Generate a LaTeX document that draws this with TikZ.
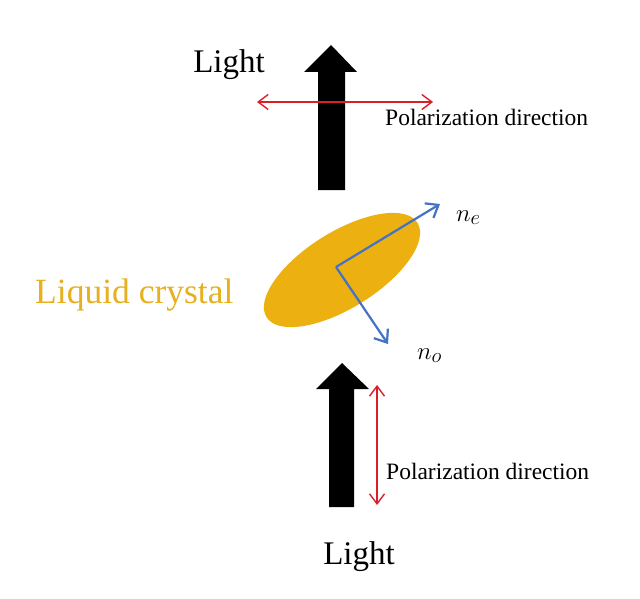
\documentclass[tikz,border=0pt]{standalone}
\usepackage{fontspec}
\setmainfont{Liberation Serif}
\usetikzlibrary{arrows.meta,shapes.geometric}
\definecolor{lcgold}{RGB}{236,177,17}
\definecolor{lctext}{RGB}{232,176,30}
\definecolor{polred}{RGB}{220,30,40}
\definecolor{axisblue}{RGB}{68,114,196}
\tikzset{
  lightarrow/.style={fill=black,draw=none},
  polarrow/.style={draw=polred,line width=1.4pt,{Straight Barb[length=10pt,width=15pt]}-{Straight Barb[length=10pt,width=15pt]}},
  axisarrow/.style={draw=axisblue,line width=2.2pt,line join=round,-{Straight Barb[length=11pt,width=17pt]}},
  lbl/.style={inner sep=0pt,anchor=base},
}
\begin{document}
\begin{tikzpicture}[x=1pt,y=-1pt]
\useasboundingbox[fill=white] (0,0) rectangle (640,599);
% top light arrow
\fill[lightarrow] (318,190) -- (318,72) -- (304,72) -- (331,45) -- (357,72) -- (345,72) -- (345,190) -- cycle;
% bottom light arrow
\fill[lightarrow] (329,507) -- (329,389) -- (316,389) -- (342,363) -- (369,389) -- (354,389) -- (354,507) -- cycle;
% polarization arrows
\coordinate (ph1) at (257,102);
\coordinate (ph2) at (433,102);
\draw[polarrow] (ph1) -- (ph2);
\coordinate (pv1) at (377,385);
\coordinate (pv2) at (377,505);
\draw[polarrow] (pv1) -- (pv2);
% liquid crystal
\node[ellipse,fill=lcgold,draw=none,minimum width=178pt,minimum height=76pt,rotate=32,inner sep=0pt] (lc) at (342,270) {};
\coordinate (o) at (336,267);
\coordinate (ne) at (440,204);
\coordinate (no) at (388,344);
\draw[axisarrow] (o) -- (ne);
\draw[axisarrow] (o) -- (no);
% labels
\node[lbl] (lighttop) at (229,73) {\fontsize{33}{36}\selectfont Light};
\node[lbl] (lightbot) at (359,564) {\fontsize{33}{36}\selectfont Light};
\node[lbl,anchor=base west] (poltop) at (385,126) {\fontsize{23.5}{26}\selectfont Polarization direction};
\node[lbl,anchor=base west] (polbot) at (386,479) {\fontsize{23.5}{26}\selectfont Polarization direction};
\node[lbl,anchor=base west,text=lctext] (lctxt) at (35,303) {\fontsize{35.5}{38}\selectfont Liquid crystal};
\node[lbl,anchor=base west] (nelbl) at (456,221) {\fontsize{29}{30}\selectfont $n_e$};
\node[lbl,anchor=base west] (nolbl) at (417,359) {\fontsize{29}{30}\selectfont $n_o$};
\end{tikzpicture}
\end{document}
